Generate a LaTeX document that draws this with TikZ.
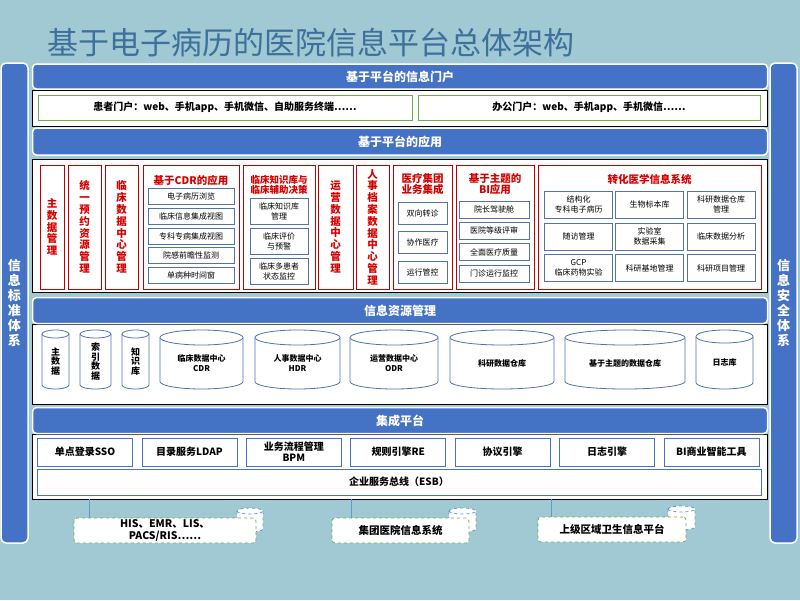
\documentclass[tikz,border=0pt]{standalone}
\usepackage{fontspec}
\setmainfont{Noto Sans CJK SC}
\definecolor{bgteal}{RGB}{160,201,211}
\definecolor{hdrblue}{RGB}{68,114,196}
\definecolor{ttlblue}{RGB}{62,112,156}
\definecolor{appred}{RGB}{192,0,0}
\definecolor{txtred}{RGB}{214,0,0}
\definecolor{itemblue}{RGB}{79,114,176}
\definecolor{portgreen}{RGB}{112,173,71}
\definecolor{wireblue}{RGB}{91,155,213}
\tikzset{ttl/.style={text=ttlblue,font=\fontsize{31}{34}\selectfont,inner sep=0pt},
  bar/.style={fill=hdrblue,draw=white,line width=1.5pt,rounded corners=5pt,text=white,
    font=\fontsize{13}{15}\selectfont\bfseries,align=center,minimum width=27,minimum height=480,inner sep=0pt},
  hdr/.style={fill=hdrblue,draw=white,line width=1.5pt,rounded corners=4pt,text=white,
    font=\fontsize{12}{14}\selectfont\bfseries,minimum width=735,minimum height=#1,inner sep=0pt},
  frame/.style={fill=white,draw=black,line width=0.9pt,minimum width=735,inner sep=0pt},
  port/.style={fill=white,draw=portgreen,line width=0.8pt,minimum height=25,inner sep=0pt,
    font=\fontsize{10}{12}\selectfont\bfseries},
  app/.style={draw=appred,line width=1pt,minimum height=124,inner sep=0pt,text=txtred,
    font=\fontsize{10.5}{11.8}\selectfont\bfseries,align=center},
  apphd/.style={text=txtred,font=\fontsize{10.5}{11}\selectfont\bfseries,align=center,inner sep=0pt},
  item/.style={fill=white,draw=itemblue,line width=0.7pt,inner sep=0pt,
    font=\fontsize{8}{9.5}\selectfont,align=center},
  tool/.style={fill=white,draw=hdrblue,line width=0.8pt,minimum width=95,minimum height=28,
    inner sep=0pt,align=center,font=\fontsize{10}{11}\selectfont\bfseries},
  dbline/.style={draw=itemblue,fill=white,line width=0.8pt},
  dbtext/.style={font=\fontsize{8}{9.5}\selectfont\bfseries,align=center,inner sep=0pt},
  src/.style={fill=white,draw=portgreen,dashed,line width=0.8pt,rounded corners=3pt,inner sep=0pt,
    align=center,font=\fontsize{10.5}{11.5}\selectfont\bfseries},
  wire/.style={draw=wireblue,line width=0.6pt}}
% [style] name, left, right, top, bottom, ry, text
\newcommand\drum[8][]{%
  \filldraw[dbline,#1] (#3,#5+#7) -- (#3,#6-#7)
    arc[start angle=180,end angle=0,x radius={(#4-#3)/2},y radius=#7] -- (#4,#5+#7)
    arc[start angle=0,end angle=-180,x radius={(#4-#3)/2},y radius=#7] -- cycle;
  \draw[dbline,#1] (#3,#5+#7) arc[start angle=180,end angle=0,x radius={(#4-#3)/2},y radius=#7];
  \node[dbtext,#1] (#2) at ({(#3+#4)/2},{(#5+#6+#7)/2}) {#8};}
\begin{document}
\begin{tikzpicture}[x=1pt,y=-1pt]
\def\mx{400}
\useasboundingbox (0,0) rectangle (800,600);
\fill[bgteal] (0,0) rectangle (800,600);
\node[ttl,anchor=west] (title) at (47,43) {基于电子病历的医院信息平台总体架构};
% side bars
\node[bar] (stdbar) at (14.5,303) {信\\息\\标\\准\\体\\系};
\node[bar] (secbar) at (783.5,303) {信\\息\\安\\全\\体\\系};
% portal
\node[frame,minimum height=36] (portfr) at (\mx,108) {};
\node[hdr=25] (porthd) at (\mx,76.5) {基于平台的信息门户};
\node[port,minimum width=374] (patport) at (225,107.5) {患者门户：web、手机app、手机微信、自助服务终端……};
\node[port,minimum width=342] (offport) at (589,107.5) {办公门户：web、手机app、手机微信……};
% applications
\node[hdr=27] (apphd) at (\mx,141.5) {基于平台的应用};
\node[frame,minimum height=133] (appfr) at (\mx,225.5) {};
\node[app,minimum width=24] (mdm) at (52,227) {主\\数\\据\\管\\理};
\node[app,minimum width=33] (rsv) at (84.5,227) {统\\一\\预\\约\\资\\源\\管\\理};
\node[app,minimum width=33] (cdc) at (121.5,227) {临\\床\\数\\据\\中\\心\\管\\理};
\node[app,minimum width=96] (cdrapp) at (191,227) {};
\node[app,minimum width=72] (kbapp) at (279,227) {};
\node[app,minimum width=35] (odc) at (335.5,227) {运\\营\\数\\据\\中\\心\\管\\理};
\node[app,minimum width=33] (hrc) at (372.5,227) {人\\事\\档\\案\\数\\据\\中\\心\\管\\理};
\node[app,minimum width=59] (grpapp) at (422.5,227) {};
\node[app,minimum width=78] (biapp) at (495,227) {};
\node[app,minimum width=223] (tmapp) at (649.5,227) {};
\node[apphd] (cdrttl) at (191,180) {基于CDR的应用};
\foreach \t [count=\i] in {电子病历浏览,临床信息集成视图,专科专病集成视图,院感前瞻性监测,单病种时间窗}
  \node[item,minimum width=86,minimum height=16] (cdr\i) at (191,{176.75+19.75*\i}) {\t};
\node[apphd,font=\fontsize{9.5}{10}\selectfont\bfseries] (kbttl) at (279,184.5) {临床知识库与\\临床辅助决策};
\foreach \t [count=\i] in {{临床知识库\\管理},{临床评价\\与预警},{临床多患者\\状态监控}}
  \node[item,minimum width=58,minimum height=26] (kb\i) at (279,{181.5+30*\i}) {\t};
\node[apphd] (grpttl) at (422.5,184.5) {医疗集团\\业务集成};
\foreach \t [count=\i] in {双向转诊,协作医疗,运行管控}
  \node[item,minimum width=49,minimum height=22] (grp\i) at (422.5,{183.5+29.5*\i}) {\t};
\node[apphd] (bittl) at (495,184.5) {基于主题的\\BI应用};
\foreach \t [count=\i] in {院长驾驶舱,医院等级评审,全面医疗质量,门诊运行监控}
  \node[item,minimum width=70,minimum height=17] (bi\i) at (494,{188.1+21.4*\i}) {\t};
\node[apphd] (tmttl) at (649.5,179) {转化医学信息系统};
\foreach \x/\y/\t/\n in {578.5/204.5/{结构化\\专科电子病历}/tm1,649.5/204.5/生物标本库/tm2,721/204.5/{科研数据仓库\\管理}/tm3,
    578.5/236.5/随访管理/tm4,649.5/236.5/{实验室\\数据采集}/tm5,721/236.5/临床数据分析/tm6,
    578.5/268/{GCP\\临床药物实验}/tm7,649.5/268/科研基地管理/tm8,721/268/科研项目管理/tm9}
  \node[item,minimum width=68,minimum height=27] (\n) at (\x,\y) {\t};
% information resources
\node[frame,minimum height=80] (resfr) at (\mx,364) {};
\node[hdr=26] (reshd) at (\mx,310.5) {信息资源管理};
\drum[font=\fontsize{9}{9.8}\selectfont\bfseries]{mdb}{42}{69}{330}{389}{4}{主\\数\\据}
\drum[font=\fontsize{9}{9.8}\selectfont\bfseries]{idx}{80}{111}{330}{389}{4}{索\\引\\数\\据}
\drum[font=\fontsize{9}{9.8}\selectfont\bfseries]{kdb}{122}{149}{330}{389}{4}{知\\识\\库}
\drum{cdrdb}{160}{243}{330}{389}{7.5}{临床数据中心\\CDR}
\drum{hdrdb}{255}{340}{330}{389}{7.5}{人事数据中心\\HDR}
\drum{odrdb}{350}{438}{330}{389}{7.5}{运营数据中心\\ODR}
\drum{sdw}{450}{554}{330}{389}{7.5}{科研数据仓库}
\drum{tdw}{565}{685}{330}{389}{7.5}{基于主题的数据仓库}
\drum{logdb}{696}{753}{330}{389}{6.5}{日志库}
% integration platform
\node[frame,minimum height=65] (intfr) at (\mx,466.5) {};
\node[hdr=26] (inthd) at (\mx,420.5) {集成平台};
\foreach \t [count=\i] in {单点登录SSO,目录服务LDAP,{业务流程管理\\BPM},规则引擎RE,协议引擎,日志引擎,BI商业智能工具}
  \node[tool] (tool\i) at ({-19.4+104.4*\i},452) {\t};
\node[tool,minimum width=724,minimum height=26] (esb) at (399,482) {企业服务总线（ESB）};
% external systems
\coordinate (tap1) at (89,499);
\coordinate (tap2) at (351,499);
\coordinate (tap3) at (551,499);
\drum[dashed,draw=wireblue]{db1}{237}{263}{508}{532}{3}{}
\drum[dashed,draw=wireblue]{db2}{449}{476}{508}{532}{3}{}
\drum[dashed,draw=wireblue]{db3}{668}{695}{506}{530}{3}{}
\node[src,minimum width=182,minimum height=25] (his) at (165,530.5) {HIS、EMR、LIS、\\PACS/RIS……};
\node[src,minimum width=137,minimum height=25] (grp) at (400.5,530.5) {集团医院信息系统};
\node[src,minimum width=148,minimum height=25] (reg) at (612,529.5) {上级区域卫生信息平台};
\draw[wire] (tap1) -- (tap1 |- his.north);
\draw[wire] (tap2) -- (tap2 |- grp.north);
\draw[wire] (tap3) -- (tap3 |- reg.north);
\end{tikzpicture}
\end{document}
